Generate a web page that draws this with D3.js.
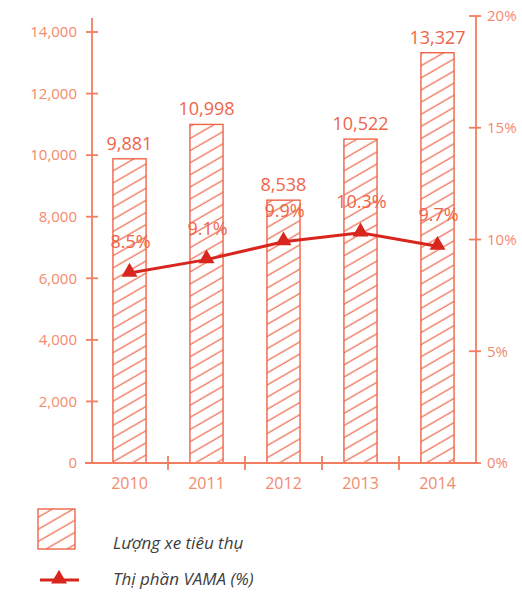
<!DOCTYPE html>
<html><head><meta charset="utf-8">
<script src="https://cdn.jsdelivr.net/npm/d3@7"></script>
<style>
html,body{margin:0;padding:0;background:#fff;}
svg{display:block;}
</style></head>
<body>
<svg id="chart" width="522" height="592"></svg>
<script>
const years = ["2010","2011","2012","2013","2014"];
const sales = [9881, 10998, 8538, 10522, 13327];
const share = [8.5, 9.1, 9.9, 10.3, 9.7];
const leftTicks = [0, 2000, 4000, 6000, 8000, 10000, 12000, 14000];
const rightTicks = [0, 5, 10, 15, 20];
const legendLabels = ["Lượng xe tiêu thụ", "Thị phần VAMA (%)"];

const axisCol = "#f27e61", tickTextCol = "#f38a6e", barCol = "#ee6548", lineCol = "#d8261f";
const numFont = "'Open Sans',sans-serif";

const svg = d3.select("#chart");
const defs = svg.append("defs");
const pat = defs.append("pattern").attr("id","hatch").attr("patternUnits","userSpaceOnUse")
  .attr("width",10.5).attr("height",10.5).attr("patternTransform","rotate(-30)");
pat.append("line").attr("x1",0).attr("y1",5).attr("x2",10.5).attr("y2",5)
  .attr("stroke",barCol).attr("stroke-width",1.2);

const xL = 91, xR = 476, y0 = 463;
const x = d3.scalePoint().domain(years).range([xL, xR]).padding(0.5);
const step = x.step();
const bw = step * 0.43;
const yL = d3.scaleLinear().domain([0,14000]).range([y0, 32]);
const yR = d3.scaleLinear().domain([0,20]).range([y0, 16]);

// left axis
const gL = svg.append("g");
gL.append("line").attr("x1",xL+1).attr("x2",xL+1).attr("y1",18).attr("y2",y0)
  .attr("stroke",axisCol).attr("stroke-width",1.8);
leftTicks.forEach(t=>{
  gL.append("line").attr("x1",xL-5).attr("x2",xL+7).attr("y1",yL(t)).attr("y2",yL(t))
    .attr("stroke",axisCol).attr("stroke-width",1.8);
  gL.append("text").attr("x",xL-14).attr("y",yL(t)).attr("dy","0.35em")
    .attr("text-anchor","end").attr("fill",tickTextCol)
    .attr("font-family",numFont).attr("font-size",15)
    .text(d3.format(",")(t));
});
// right axis
const gR = svg.append("g");
gR.append("line").attr("x1",xR).attr("x2",xR).attr("y1",16).attr("y2",y0)
  .attr("stroke",axisCol).attr("stroke-width",1.8);
rightTicks.forEach(t=>{
  gR.append("line").attr("x1",xR-7).attr("x2",xR+5).attr("y1",yR(t)).attr("y2",yR(t))
    .attr("stroke",axisCol).attr("stroke-width",1.8);
  gR.append("text").attr("x",xR+11).attr("y",yR(t)).attr("dy","0.35em")
    .attr("text-anchor","start").attr("fill",tickTextCol)
    .attr("font-family",numFont).attr("font-size",15)
    .text(t+"%");
});

// bars
svg.append("g").selectAll("rect").data(years).join("rect")
  .attr("x",d=>x(d)-bw/2).attr("width",bw)
  .attr("y",(d,i)=>yL(sales[i])).attr("height",(d,i)=>y0-yL(sales[i]))
  .attr("fill","url(#hatch)").attr("stroke",barCol).attr("stroke-width",1.4);

// x axis
const gX = svg.append("g");
gX.append("line").attr("x1",xL-6).attr("x2",xR+2).attr("y1",y0).attr("y2",y0)
  .attr("stroke",axisCol).attr("stroke-width",1.8);
years.slice(1).forEach(d=>{
  const xm = x(d) - step/2;
  gX.append("line").attr("x1",xm).attr("x2",xm).attr("y1",y0-7).attr("y2",y0+7)
    .attr("stroke",axisCol).attr("stroke-width",1.8);
});
years.forEach(d=>{
  gX.append("text").attr("x",x(d)).attr("y",489).attr("text-anchor","middle")
    .attr("fill",tickTextCol).attr("font-family",numFont).attr("font-size",16)
    .text(d);
});

// bar value labels
svg.append("g").selectAll("text").data(years).join("text")
  .attr("x",d=>x(d)).attr("y",(d,i)=>yL(sales[i])-9).attr("text-anchor","middle")
  .attr("fill",barCol).attr("font-family",numFont).attr("font-size",18)
  .text((d,i)=>d3.format(",")(sales[i]));

// line
const line = d3.line().x((d,i)=>x(years[i])).y(d=>yR(d));
svg.append("path").datum(share).attr("d",line).attr("fill","none")
  .attr("stroke",lineCol).attr("stroke-width",3);
const tri = d3.symbol().type(d3.symbolTriangle).size(110);
svg.append("g").selectAll("path").data(share).join("path")
  .attr("d",tri).attr("transform",(d,i)=>`translate(${x(years[i])},${yR(d)-1})`)
  .attr("fill",lineCol);
svg.append("g").selectAll("text").data(share).join("text")
  .attr("x",(d,i)=>x(years[i])+1).attr("y",d=>yR(d)-25).attr("text-anchor","middle")
  .attr("fill",barCol).attr("font-family",numFont).attr("font-size",18)
  .text(d=>d.toFixed(1)+"%");

// legend
const lg = svg.append("g");
lg.append("rect").attr("x",38).attr("y",509).attr("width",37).attr("height",40)
  .attr("fill","url(#hatch)").attr("stroke",barCol).attr("stroke-width",1.4);
lg.append("line").attr("x1",40).attr("x2",79).attr("y1",580).attr("y2",580)
  .attr("stroke",lineCol).attr("stroke-width",3);
lg.append("path").attr("d",tri).attr("transform","translate(59,579)").attr("fill",lineCol);
lg.append("text").attr("x",113).attr("y",549).attr("fill","#3d3d3d")
  .attr("font-family","'Open Sans','Noto Sans',sans-serif").attr("font-style","italic")
  .attr("font-size",17).text(legendLabels[0]);
lg.append("text").attr("x",113).attr("y",585).attr("fill","#3d3d3d")
  .attr("font-family","'Open Sans','Noto Sans',sans-serif").attr("font-style","italic")
  .attr("font-size",17).text(legendLabels[1]);
</script>
</body></html>
